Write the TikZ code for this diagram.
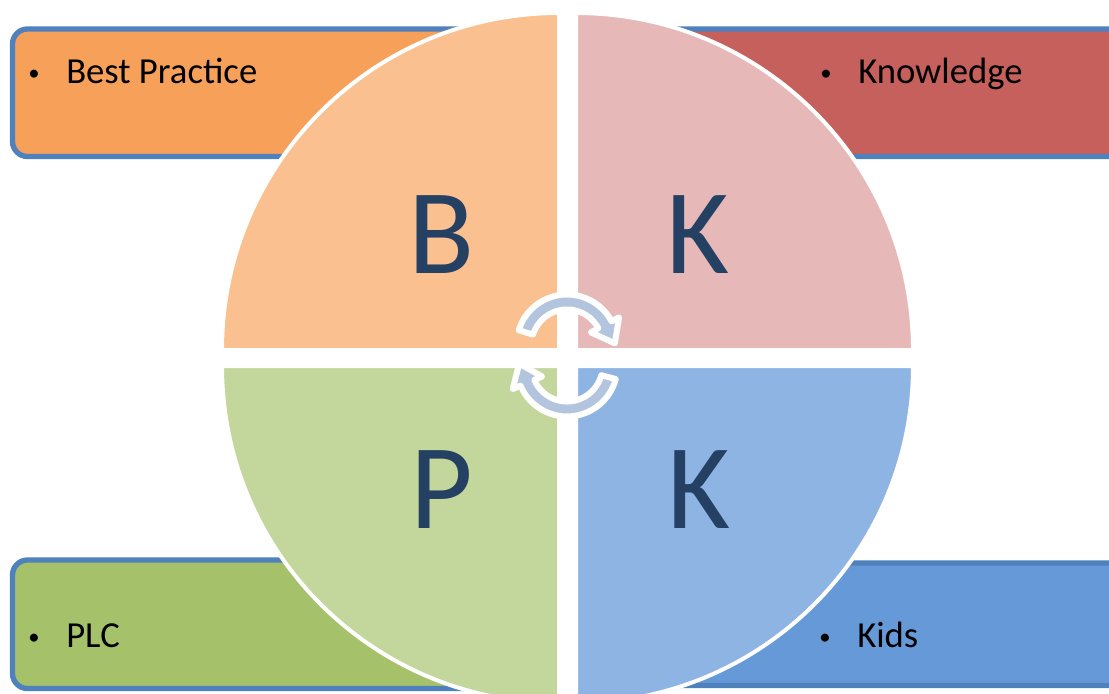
\documentclass[tikz,border=0pt]{standalone}
\usepackage{fontspec}
\setmainfont{Carlito}
\usetikzlibrary{calc}
\definecolor{bordblue}{HTML}{4F81BD}
\definecolor{boxTL}{HTML}{F6A05A}
\definecolor{boxTR}{HTML}{C5605D}
\definecolor{boxBL}{HTML}{A5C26B}
\definecolor{boxBR}{HTML}{6699D8}
\definecolor{qTL}{HTML}{FAC090}
\definecolor{qTR}{HTML}{E6B9B8}
\definecolor{qBL}{HTML}{C3D69B}
\definecolor{qBR}{HTML}{8EB4E3}
\definecolor{letterblue}{HTML}{244062}
\definecolor{arrowblue}{HTML}{B3C5DE}
\tikzset{
  sidebox/.style={draw=bordblue, line width=4pt, rounded corners=11.25pt},
  quadrant/.style={draw=white, line width=3pt, line join=round},
  bigletter/.style={anchor=base, inner sep=0pt, text=letterblue, font=\fontsize{91}{100}\selectfont},
  itemtext/.style={anchor=base west, inner sep=0pt, text=black, font=\fontsize{27.5}{30}\selectfont},
  cyclearrow/.style={fill=arrowblue, draw=white, line width=4.5pt, line join=round}
}
\newcommand{\bulletitem}[1]{\llap{\raisebox{2pt}{\fontsize{17}{17}\selectfont\textbullet}\hspace{20pt}}#1}
\begin{document}
\begin{tikzpicture}[x=0.75pt, y=-0.75pt]
\useasboundingbox (0,0) rectangle (1109,693);
\clip (0,0) rectangle (1109,693);
\fill[white] (0,0) rectangle (1109,693);
% side boxes
\draw[sidebox, fill=boxTL] (12.5,29) rectangle (540,156.5);
\draw[sidebox, fill=boxTR] (595,29) rectangle (1140,156.5);
\draw[sidebox, fill=boxBL] (12.5,560) rectangle (540,688.5);
\draw[sidebox, fill=boxBR] (595,563) rectangle (1140,685.5);
% labels
\node[itemtext] (best) at (66,83) {\bulletitem{Best Practice}};
\node[itemtext] (know) at (858,83) {\bulletitem{Knowledge}};
\node[itemtext] (plc) at (66,647) {\bulletitem{PLC}};
\node[itemtext] (kids) at (857,647) {\bulletitem{Kids}};
% quadrants
\path[quadrant, fill=qTL] (559,350) -- (222,350) arc[start angle=180, end angle=270, radius=337] -- cycle;
\path[quadrant, fill=qTR] (576,350) -- (576,13) arc[start angle=270, end angle=360, radius=337] -- cycle;
\path[quadrant, fill=qBR] (576,366) -- (913,366) arc[start angle=0, end angle=90, radius=337] -- cycle;
\path[quadrant, fill=qBL] (559,366) -- (559,703) arc[start angle=90, end angle=180, radius=337] -- cycle;
% letters
\node[bigletter] (b) at (441.5,273) {B};
\node[bigletter] (k1) at (698.5,273) {K};
\node[bigletter] (p) at (442,528) {P};
\node[bigletter] (k2) at (699.5,528) {K};
% cycle arrows
\coordinate (c1) at (567,345);
\coordinate (c2) at (567,366);
\path[cyclearrow] ($(c1)+(197:50.5)$) arc[start angle=197, end angle=332, radius=50.5]
  -- ($(c1)+(332:59)$) -- ($(c1)+(332:43)+(62:21)$) -- ($(c1)+(332:27)$)
  -- ($(c1)+(332:35.5)$) arc[start angle=332, end angle=197, radius=35.5] -- cycle;
\path[cyclearrow] ($(c2)+(15:50.5)$) arc[start angle=15, end angle=157, radius=50.5]
  -- ($(c2)+(157:59)$) -- ($(c2)+(157:43)+(247:21)$) -- ($(c2)+(157:27)$)
  -- ($(c2)+(157:35.5)$) arc[start angle=157, end angle=15, radius=35.5] -- cycle;
\end{tikzpicture}
\end{document}
